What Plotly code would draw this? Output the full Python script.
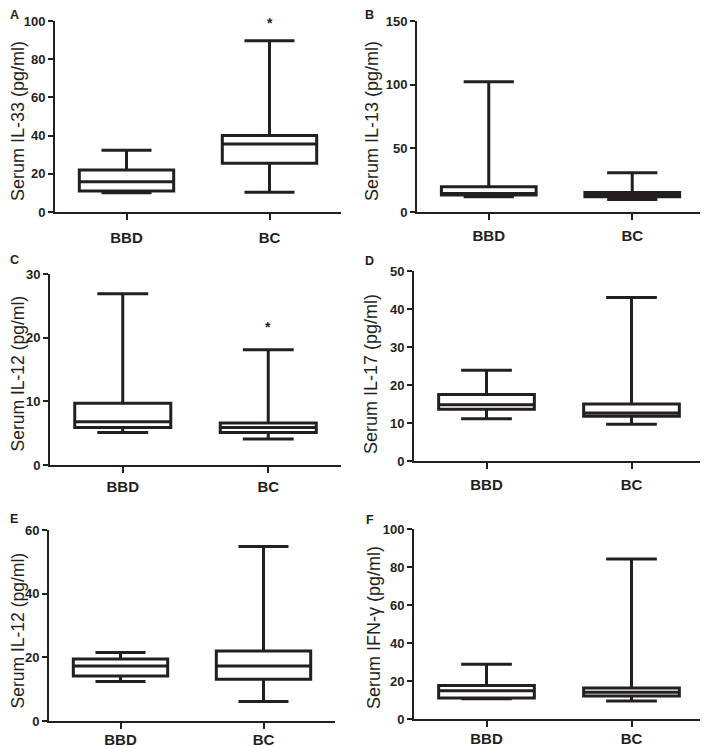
import plotly.graph_objects as go

groups = ["BBD", "BC"]

# box statistics per panel: [BBD, BC]
il33_low = [10.1, 10.3]
il33_q1 = [11.0, 25.5]
il33_med = [15.9, 35.6]
il33_q3 = [22.0, 40.0]
il33_high = [32.3, 89.7]

il13_low = [12.0, 9.9]
il13_q1 = [13.3, 12.0]
il13_med = [14.5, 13.5]
il13_q3 = [19.9, 15.4]
il13_high = [102.2, 30.8]

il12a_low = [5.1, 4.1]
il12a_q1 = [5.9, 5.1]
il12a_med = [6.8, 5.9]
il12a_q3 = [9.7, 6.6]
il12a_high = [26.9, 18.1]

il17_low = [11.1, 9.7]
il17_q1 = [13.6, 11.8]
il17_med = [14.8, 12.6]
il17_q3 = [17.5, 15.0]
il17_high = [23.9, 43.0]

il12b_low = [12.4, 6.1]
il12b_q1 = [14.1, 13.1]
il12b_med = [17.3, 17.3]
il12b_q3 = [19.5, 22.0]
il12b_high = [21.5, 54.8]

ifng_low = [10.6, 9.5]
ifng_q1 = [11.1, 12.1]
ifng_med = [14.9, 14.1]
ifng_q3 = [17.6, 16.3]
ifng_high = [28.8, 84.2]

INK = "#231f20"
FONT = "Liberation Sans, Arial"
OFF = 8            # page body margin
W, H = 700, 740    # figure size inside the 708x748 window


def fx(px):
    return (px - OFF) / W


def fy(py):
    return 1 - (py - OFF) / H


panels = [
    # letter, title, stats, ymax, dtick, plot box in page px (x0, x1, ytop, ybottom),
    # letter pos, title pos, title size, x-label standoff
    ("A", "Serum IL-33 (pg/ml)", (il33_low, il33_q1, il33_med, il33_q3, il33_high), 100, 20,
     (55, 341, 21, 212), (14, 15.5), (18, 121), 18, 5),
    ("B", "Serum IL-13 (pg/ml)", (il13_low, il13_q1, il13_med, il13_q3, il13_high), 150, 50,
     (417, 704, 21, 212), (369, 15.5), (372, 121), 18, 3),
    ("C", "Serum IL-12 (pg/ml)", (il12a_low, il12a_q1, il12a_med, il12a_q3, il12a_high), 30, 10,
     (50, 341, 274, 465), (14, 260), (17.5, 374), 17.5, 1),
    ("D", "Serum IL-17 (pg/ml)", (il17_low, il17_q1, il17_med, il17_q3, il17_high), 50, 10,
     (414, 704, 271, 461), (369, 261), (371, 374), 18, 3),
    ("E", "Serum IL-12 (pg/ml)", (il12b_low, il12b_q1, il12b_med, il12b_q3, il12b_high), 60, 20,
     (49, 335, 530, 721), (14, 519), (17.5, 631), 17.5, -2),
    ("F", "Serum IFN-γ (pg/ml)", (ifng_low, ifng_q1, ifng_med, ifng_q3, ifng_high), 100, 20,
     (414, 704, 529, 719), (370, 519.5), (374, 628), 18, -1),
]

# significance marks: panel index, group, y value
stars = [(0, "BC", 99), (2, "BC", 21.7)]

fig = go.Figure()
layout = {}
annotations = []

for i, (letter, title, st, ymax, dt, (x0, x1, yt, yb), lp, tp, ts, ls) in enumerate(panels):
    n = "" if i == 0 else str(i + 1)
    lo, q1, med, q3, hi = st
    fig.add_trace(go.Box(
        x=groups, q1=q1, median=med, q3=q3, lowerfence=lo, upperfence=hi,
        xaxis="x" + n, yaxis="y" + n,
        width=0.66, whiskerwidth=0.53,
        line=dict(color=INK, width=3), fillcolor="white",
        boxpoints=False, showlegend=False,
    ))
    layout["xaxis" + n] = dict(
        domain=[fx(x0), fx(x1)], anchor="y" + n, type="category", automargin=False,
        range=[-0.5, 1.5], showline=True, linecolor=INK, linewidth=2,
        ticks="outside", ticklen=6, tickwidth=2, tickcolor=INK, ticklabelstandoff=ls,
        showgrid=False, zeroline=False,
        tickfont=dict(family=FONT, size=15, color=INK, weight="bold"),
    )
    layout["yaxis" + n] = dict(
        domain=[fy(yb), fy(yt)], anchor="x" + n, automargin=False,
        range=[0, ymax], dtick=dt, showline=True, linecolor=INK, linewidth=2,
        ticks="outside", ticklen=5, tickwidth=2, tickcolor=INK,
        showgrid=False, zeroline=False,
        tickfont=dict(family=FONT, size=13, color=INK, weight="bold"),
    )
    annotations.append(dict(
        text="<b>" + letter + "</b>", xref="paper", yref="paper", borderpad=0,
        x=fx(lp[0]), y=fy(lp[1]), xanchor="center", yanchor="middle", showarrow=False,
        font=dict(family=FONT, size=12.5, color=INK),
    ))
    annotations.append(dict(
        text=title, xref="paper", yref="paper", textangle=-90, borderpad=0,
        x=fx(tp[0]), y=fy(tp[1]), xanchor="center", yanchor="middle", showarrow=False,
        font=dict(family=FONT, size=ts, color=INK),
    ))

for idx, g, yv in stars:
    n = "" if idx == 0 else str(idx + 1)
    annotations.append(dict(
        text="<b>*</b>", x=g, y=yv, xref="x" + n, yref="y" + n,
        showarrow=False, font=dict(family=FONT, size=14, color=INK),
    ))

fig.update_layout(
    **layout,
    annotations=annotations,
    width=W, height=H,
    margin=dict(l=0, r=0, t=0, b=0, autoexpand=False),
    paper_bgcolor="white", plot_bgcolor="white",
    showlegend=False,
)

fig.write_html("out.html")
